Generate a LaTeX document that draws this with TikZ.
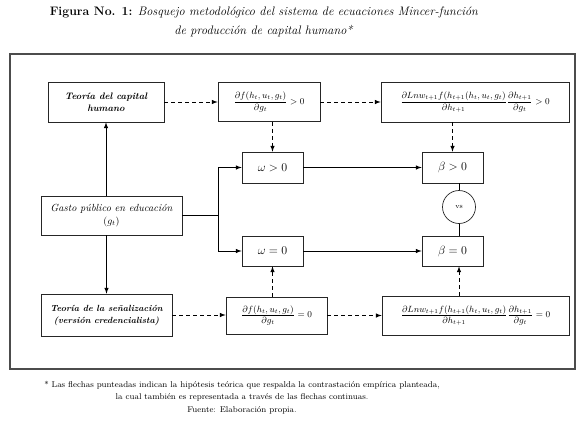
\documentclass[tikz,border=0pt]{standalone}
\usepackage{xcolor}
\usepackage{amssymb}
\usepackage{amsmath}
\usepackage{tikz}
\usetikzlibrary{arrows,calc,positioning}

\begin{document}
\begin{tikzpicture}[x=1pt, y=-1pt,
  box/.style={draw=black!85, line width=0.7pt, align=center, inner sep=1pt},
  vsnode/.style={draw=black!85, line width=0.7pt, circle, minimum size=33pt, inner sep=0pt, font=\scriptsize},
  hyp/.style={black, line width=1pt, dash pattern=on 4pt off 3pt, -latex},
  real/.style={black, line width=1pt, -latex}]
\useasboundingbox (0,0) rectangle (580,421);

\node [anchor=center, align=center, font=\fontsize{12.3}{19}\selectfont] (title) at (264,22)
  {\textbf{Figura No. 1:} \textit{Bosquejo metodológico del sistema de ecuaciones Mincer-función}\\
   \textit{de producción de capital humano*}};

\draw [black!70, line width=1.3pt] (10,54) rectangle (575,369);

\node [box, minimum width=116pt, minimum height=40pt, font=\fontsize{9.4}{12}\selectfont\bfseries\itshape] (cap) at (106,102)
  {Teoría del capital\\humano};
\node [box, minimum width=102pt, minimum height=39pt, font=\small] (dfpos) at (269,102)
  {$\dfrac{\partial f(h_t,u_t,g_t)}{\partial g_t} > 0$};
\node [box, minimum width=188pt, minimum height=40pt, font=\small] (ltop) at (475,102)
  {$\dfrac{\partial Lnw_{t+1}f(h_{t+1}(h_t,u_t,g_t)}{\partial h_{t+1}}\dfrac{\partial h_{t+1}}{\partial g_t} > 0$};

\node [box, minimum width=61pt, minimum height=31pt, font=\large] (wpos) at (272.5,167.5) {$\omega > 0$};
\node [box, minimum width=61pt, minimum height=31pt, font=\large] (bpos) at (452.5,167.5) {$\beta > 0$};
\node [vsnode] (vs) at (459,207) {vs};

\node [box, minimum width=141pt, minimum height=39pt, font=\fontsize{10.3}{13}\selectfont] (gasto) at (111.5,215.5)
  {\textit{Gasto público en educación}\\$(g_t)$};
\coordinate (br) at (218,215.5);

\node [box, minimum width=61pt, minimum height=30pt, font=\large] (wzero) at (272.5,251) {$\omega = 0$};
\node [box, minimum width=61pt, minimum height=30pt, font=\large] (bzero) at (452.5,251) {$\beta = 0$};

\node [box, minimum width=131pt, minimum height=42pt, font=\fontsize{8.9}{12}\selectfont\bfseries\itshape] (sen) at (106.5,315)
  {Teoría de la señalización\\(versión credencialista)};
\node [box, minimum width=101pt, minimum height=37pt, font=\small] (dfzero) at (276.5,315.5)
  {$\dfrac{\partial f(h_t,u_t,g_t)}{\partial g_t} = 0$};
\node [box, minimum width=187pt, minimum height=39pt, font=\small] (lbot) at (475.5,315.5)
  {$\dfrac{\partial Lnw_{t+1}f(h_{t+1}(h_t,u_t,g_t)}{\partial h_{t+1}}\dfrac{\partial h_{t+1}}{\partial g_t} = 0$};

\draw [real] (cap.south |- gasto.north) -- (cap.south);
\draw [real] (sen.north |- gasto.south) -- (sen.north);
\draw [black, line width=1pt] (gasto.east) -- (br);
\draw [real] (br) |- (wpos.west);
\draw [real] (br) |- (wzero.west);
\draw [real] (wpos.east) -- (bpos.west);
\draw [real] (wzero.east) -- (bzero.west);
\draw [black, line width=1pt] (vs.north |- bpos.south) -- (vs.north);
\draw [black, line width=1pt] (vs.south) -- (vs.south |- bzero.north);

\foreach \a/\b in {cap/dfpos, dfpos/ltop, sen/dfzero, dfzero/lbot}
  \draw [hyp] (\a.east) -- (\a.east -| \b.west);
\draw [hyp] (wpos.north |- dfpos.south) -- (wpos.north);
\draw [hyp] (bpos.north |- ltop.south) -- (bpos.north);
\draw [hyp] (wzero.south |- dfzero.north) -- (wzero.south);
\draw [hyp] (vs.south |- lbot.north) -- (vs.south |- bzero.south);

\node [anchor=center, align=center, font=\fontsize{8.4}{12.5}\selectfont] (nota) at (242,397.5)
  {* Las flechas punteadas indican la hipótesis teórica que respalda la contrastación empírica planteada,\\
   la cual también es representada a través de las flechas continuas.\\
   Fuente: Elaboración propia.};
\end{tikzpicture}
\end{document}
